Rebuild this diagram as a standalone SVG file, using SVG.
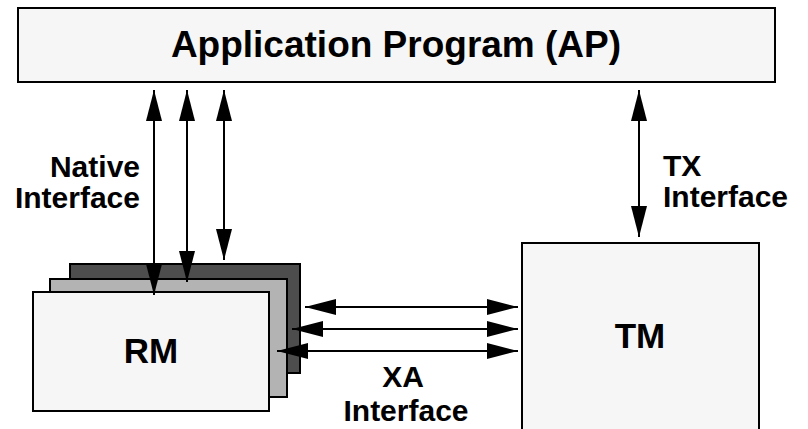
<svg xmlns="http://www.w3.org/2000/svg" width="808" height="429" viewBox="0 0 808 429">
  <style>
    .box { stroke: #000; stroke-width: 2; }
    .lbl { font-family: "Liberation Sans", Arial, sans-serif; font-weight: bold; fill: #000; }
    .conn { stroke: #000; stroke-width: 2; fill: none; marker-start: url(#ah); marker-end: url(#ah); }
  </style>
  <defs>
    <marker id="ah" viewBox="0 0 31 16" refX="31" refY="8" markerWidth="31" markerHeight="16" markerUnits="userSpaceOnUse" orient="auto-start-reverse">
      <path d="M0,0 L31,8 L0,16 z" fill="#000"/>
    </marker>
  </defs>
  <rect width="808" height="429" fill="#fff"/>

  <g id="ap">
    <rect class="box" x="18" y="8" width="757" height="74" fill="#f6f6f6"/>
    <text class="lbl" x="396" y="57" font-size="37" text-anchor="middle">Application Program (AP)</text>
  </g>

  <g id="rm">
    <rect class="box" x="70" y="264" width="230" height="109" fill="#4d4d4d"/>
    <rect class="box" x="50" y="279" width="237" height="118" fill="#b3b3b3"/>
    <rect class="box" x="33" y="292" width="236" height="119" fill="#f6f6f6"/>
    <text class="lbl" x="151" y="363" font-size="35" text-anchor="middle">RM</text>
  </g>

  <g id="tm">
    <rect class="box" x="522" y="243" width="237" height="200" fill="#f6f6f6"/>
    <text class="lbl" x="640" y="348" font-size="35" text-anchor="middle">TM</text>
  </g>

  <g id="labels">
    <text class="lbl" font-size="30" text-anchor="end"><tspan x="140" y="177">Native</tspan><tspan x="140" y="208">Interface</tspan></text>
    <text class="lbl" font-size="30"><tspan x="663" y="176">TX</tspan><tspan x="663" y="207">Interface</tspan></text>
    <text class="lbl" font-size="30" text-anchor="middle"><tspan x="403" y="387">XA</tspan><tspan x="406" y="421">Interface</tspan></text>
  </g>

  <g id="connectors">
    <line class="conn" x1="154" y1="90" x2="154" y2="295"/>
    <line class="conn" x1="187" y1="90" x2="187" y2="282"/>
    <line class="conn" x1="224" y1="90" x2="224" y2="260"/>
    <line class="conn" x1="639" y1="90" x2="639" y2="237"/>
    <line class="conn" x1="305" y1="307" x2="518" y2="307"/>
    <line class="conn" x1="292" y1="329" x2="518" y2="329"/>
    <line class="conn" x1="277" y1="351" x2="518" y2="351"/>
  </g>
</svg>
